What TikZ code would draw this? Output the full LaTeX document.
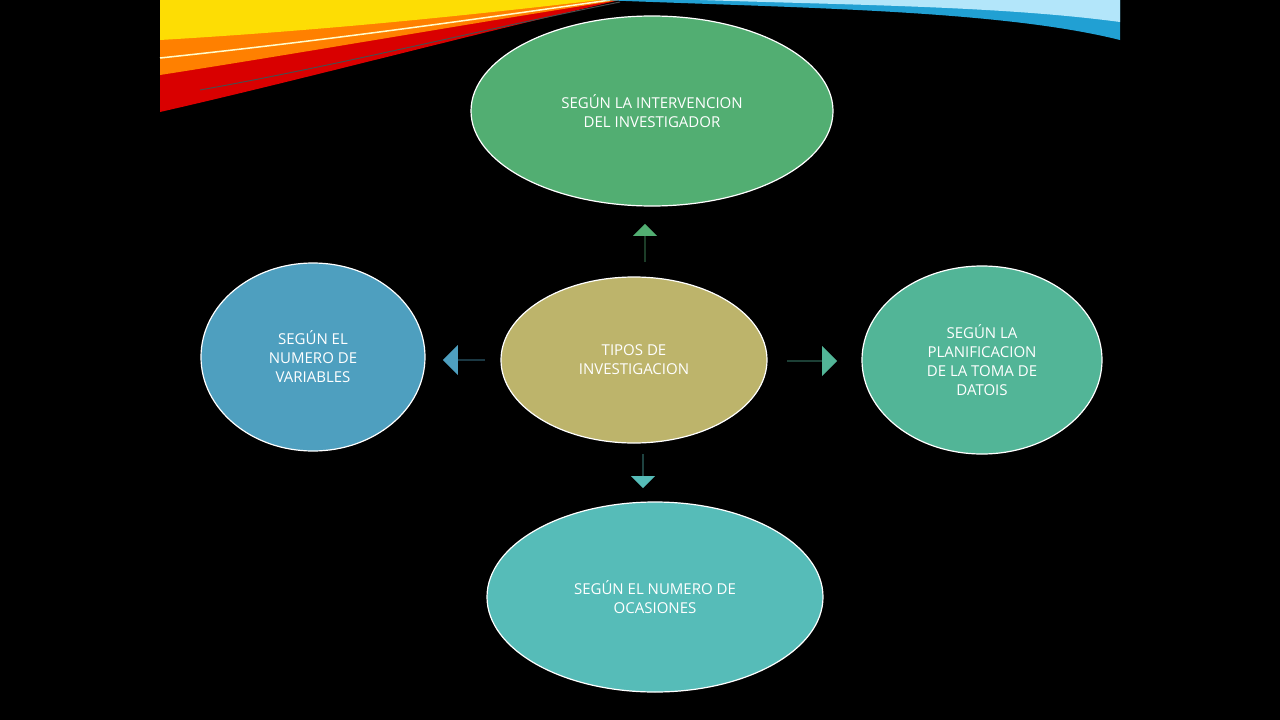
\documentclass[tikz,border=0pt]{standalone}
\usepackage{fontspec}
\setmainfont{Open Sans}
\usetikzlibrary{shapes.geometric,shapes.arrows}
\definecolor{cgreen}{HTML}{52AE72}
\definecolor{cblue}{HTML}{4E9FBF}
\definecolor{colive}{HTML}{BDB46B}
\definecolor{cteal}{HTML}{52B597}
\definecolor{ccyan}{HTML}{56BCB8}
\tikzset{
  oval/.style={ellipse,draw=white,line width=1.2pt,text=white,align=center,font=\fontsize{15}{19}\selectfont,inner sep=0pt},
  barrow/.style={single arrow,draw=none,minimum height=#1,single arrow head extend=8pt,inner sep=0pt}
}
\begin{document}
\begin{tikzpicture}[x=1pt,y=-1pt]
\fill[black] (0,0) rectangle (1280,720);
\useasboundingbox (0,0) rectangle (1280,720);
% top-left swoosh
\fill[red!85!black] (160,112) .. controls (300,80) and (450,40) .. (620,0) -- (160,0) -- cycle;
\fill[orange] (160,75) .. controls (320,50) and (460,25) .. (620,0) -- (160,0) -- cycle;
\fill[yellow!80!orange] (160,40) .. controls (330,30) and (470,15) .. (600,0) -- (160,0) -- cycle;
\draw[white!80!yellow,line width=1.5pt] (160,58) .. controls (330,40) and (470,20) .. (610,0);
\draw[black!70,line width=1pt] (200,90) .. controls (340,65) and (480,30) .. (620,2);
% top-right swoosh
\fill[cyan!70!teal] (600,0) .. controls (800,8) and (1000,10) .. (1120,40) -- (1120,0) -- cycle;
\fill[cyan!30] (700,0) .. controls (850,5) and (1000,6) .. (1120,22) -- (1120,0) -- cycle;
% ellipses
\node[oval,fill=cgreen,minimum width=362,minimum height=190] (top) at (652,111) {SEGÚN LA INTERVENCION\\DEL INVESTIGADOR};
\node[oval,fill=cblue,minimum width=224,minimum height=188] (left) at (313,357) {SEGÚN EL\\NUMERO DE\\VARIABLES};
\node[oval,fill=colive,minimum width=266,minimum height=166] (c) at (634,360) {TIPOS DE\\INVESTIGACION};
\node[oval,fill=cteal,minimum width=240,minimum height=188] (right) at (982,360) {SEGÚN LA\\PLANIFICACION\\DE LA TOMA DE\\DATOIS};
\node[oval,fill=ccyan,minimum width=336,minimum height=190] (bot) at (655,597) {SEGÚN EL NUMERO DE\\OCASIONES};
% arrows
\node[barrow=38,fill=cgreen,rotate=90,minimum width=24] (au) at (645,243) {};
\node[barrow=42,fill=cblue,rotate=180,minimum width=30] (al) at (464,360) {};
\node[barrow=50,fill=cteal,minimum width=30] (ar) at (812,361) {};
\node[barrow=34,fill=ccyan,rotate=-90,minimum width=24] (ad) at (643,471) {};
\end{tikzpicture}
\end{document}
